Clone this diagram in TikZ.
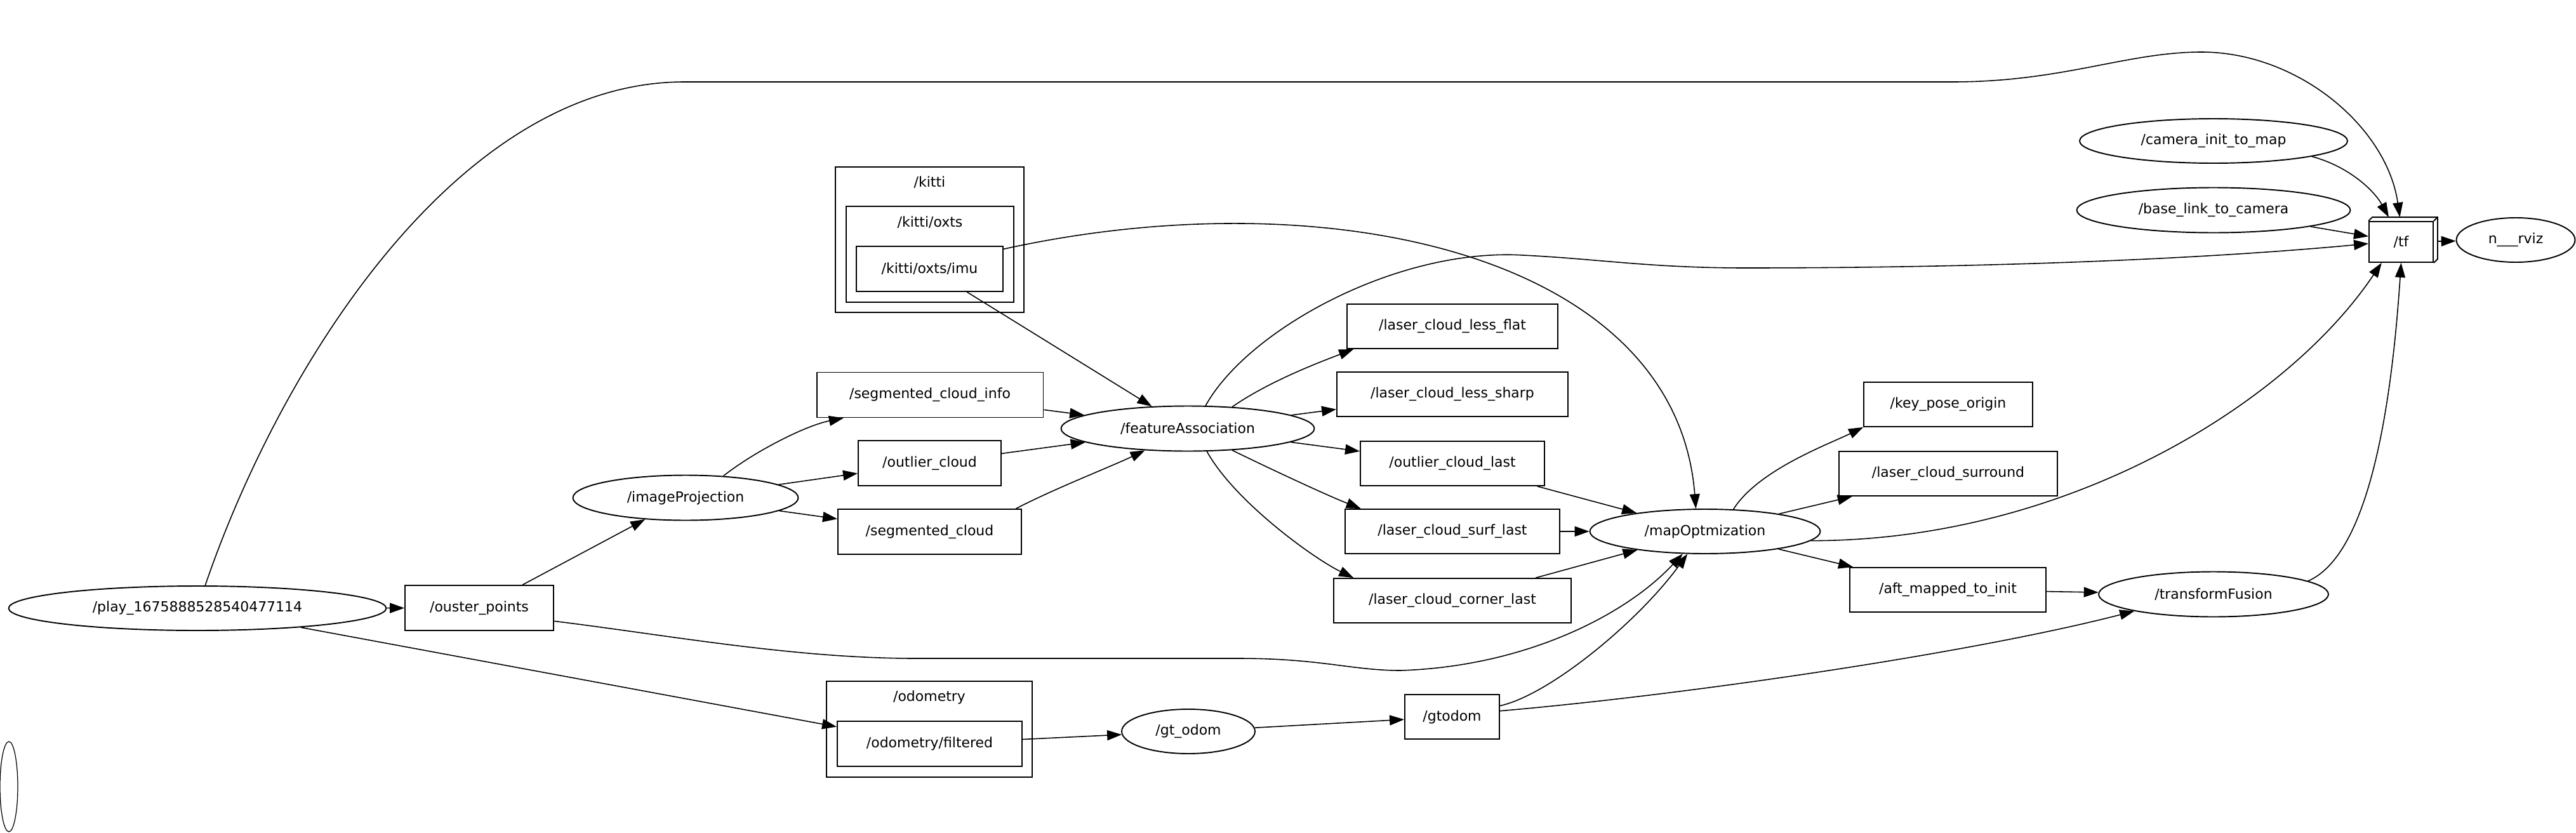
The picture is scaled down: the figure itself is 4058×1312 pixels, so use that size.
\documentclass[tikz,border=0pt]{standalone}
\usepackage{fontspec}
\setmainfont{DejaVu Sans}
\usetikzlibrary{shapes.geometric,arrows.meta,calc}
\begin{document}
\tikzset{
  nd/.style={font=\fontsize{12.5}{15}\selectfont, inner sep=0pt, line width=1.1pt, draw},
  ell/.style={nd, ellipse},
  box/.style={nd, rectangle},
  clus/.style={draw, line width=1.1pt, rectangle, inner sep=0pt},
  lbl/.style={font=\fontsize{12.5}{15}\selectfont, inner sep=0pt},
  e/.style={draw, line width=0.9pt, -{Triangle[length=0.46cm,width=0.32cm]}}
}
\begin{tikzpicture}[x=0.02cm,y=-0.02cm]
\fill[white] (0,0) rectangle (4058,1312);
\useasboundingbox (0,0) rectangle (4058,1312);

% clusters
\node[clus, minimum width=5.94cm, minimum height=4.58cm] (kitti) at (1464.5,377.5) {};
\node[lbl] (kittil) at (1464.5,287) {/kitti};
\node[clus, minimum width=5.28cm, minimum height=3.02cm] (oxts) at (1465,400.5) {};
\node[lbl] (oxtsl) at (1465,350) {/kitti/oxts};
\node[clus, minimum width=6.48cm, minimum height=3.02cm] (odom) at (1464,1148.5) {};
\node[lbl] (odoml) at (1464,1098) {/odometry};

% nodes
\node[ell, minimum width=11.9cm, minimum height=1.4cm] (play) at (311,958) {/play\_1675888528540477114};
\node[box, minimum width=4.68cm, minimum height=1.42cm] (ouster) at (755,957.5) {/ouster\_points};
\node[ell, minimum width=0.56cm, minimum height=2.84cm, line width=0.7pt] (blank) at (14,1239) {};
\node[ell, minimum width=7.1cm, minimum height=1.42cm] (ip) at (1080,784) {/imageProjection};
\node[box, minimum width=7.14cm, minimum height=1.42cm] (sci) at (1465,622) {/segmented\_cloud\_info};
\node[box, minimum width=4.5cm, minimum height=1.42cm] (oc) at (1464.5,729.5) {/outlier\_cloud};
\node[box, minimum width=5.78cm, minimum height=1.42cm] (sc) at (1464.5,837.5) {/segmented\_cloud};
\node[box, minimum width=4.62cm, minimum height=1.42cm] (imu) at (1464.5,423.5) {/kitti/oxts/imu};
\node[box, minimum width=5.82cm, minimum height=1.42cm] (odomf) at (1464.5,1171.5) {/odometry/filtered};
\node[ell, minimum width=7.98cm, minimum height=1.42cm] (fa) at (1871,675) {/featureAssociation};
\node[ell, minimum width=4.2cm, minimum height=1.4cm] (gtodome) at (1872,1152) {/gt\_odom};
\node[box, minimum width=2.98cm, minimum height=1.4cm] (gtodom) at (2287.5,1129) {/gtodom};
\node[box, minimum width=6.64cm, minimum height=1.4cm] (lclf) at (2288,514) {/laser\_cloud\_less\_flat};
\node[box, minimum width=7.28cm, minimum height=1.4cm] (lcls) at (2288,621) {/laser\_cloud\_less\_sharp};
\node[box, minimum width=5.8cm, minimum height=1.4cm] (ocl) at (2288,730) {/outlier\_cloud\_last};
\node[box, minimum width=6.76cm, minimum height=1.4cm] (lcsl) at (2288,837) {/laser\_cloud\_surf\_last};
\node[box, minimum width=7.48cm, minimum height=1.4cm] (lccl) at (2288,946) {/laser\_cloud\_corner\_last};
\node[ell, minimum width=7.26cm, minimum height=1.4cm] (map) at (2686,837) {/mapOptmization};
\node[box, minimum width=5.32cm, minimum height=1.4cm] (kpo) at (3069,637) {/key\_pose\_origin};
\node[box, minimum width=6.88cm, minimum height=1.4cm] (lcs) at (3069,746) {/laser\_cloud\_surround};
\node[box, minimum width=6.18cm, minimum height=1.4cm] (aft) at (3068.5,929) {/aft\_mapped\_to\_init};
\node[ell, minimum width=7.24cm, minimum height=1.42cm] (tfus) at (3487,936) {/transformFusion};
\node[ell, minimum width=8.44cm, minimum height=1.4cm] (cam) at (3487,222) {/camera\_init\_to\_map};
\node[ell, minimum width=8.62cm, minimum height=1.42cm] (base) at (3487,331) {/base\_link\_to\_camera};
\node[box, minimum width=2.02cm, minimum height=1.28cm] (tf) at (3782.5,381) {/tf};
\node[ell, minimum width=3.74cm, minimum height=1.4cm] (rviz) at (3963,378) {n\_\_\_rviz};

% 3D part of /tf
\draw[line width=1.1pt] (tf.north west) -- ++(6,-6) -- ($(tf.north east)+(6,-6)$) -- ($(tf.south east)+(6,-6)$) -- (tf.south east);
\draw[line width=1.1pt] (tf.north east) -- ++(6,-6);

% edges
\draw[e] (play) -- (ouster);
\draw[e] (play) -- (odomf);
\draw[e] (play) .. controls (440,580) and (720,129) .. (1078,129) -- (3076,129) .. controls (3250,129) and (3350,82) .. (3468,82) .. controls (3620,82) and (3760,200) .. ($(tf.north)+(-2,-6)$);
\draw[e] (ouster) -- (ip);
\draw[e] (ouster.-10) .. controls (1050,1000) and (1250,1037) .. (1442,1037) -- (1952,1037) .. controls (2080,1037) and (2130,1056) .. (2206,1056) .. controls (2400,1050) and (2560,970) .. (map.225);
\draw[e] (ip.30) .. controls (1190,710) and (1270,670) .. (sci.195);
\draw[e] (ip) -- (oc);
\draw[e] (ip) -- (sc);
\draw[e] (sci) -- (fa);
\draw[e] (oc) -- (fa);
\draw[e] (sc.15) .. controls (1660,770) and (1750,735) .. (fa.207);
\draw[e] (imu) -- (fa);
\draw[e] (imu.15) .. controls (2090,280) and (2640,400) .. (map.112);
\draw[e] (fa.26) .. controls (2000,600) and (2080,570) .. (lclf.193);
\draw[e] (fa) -- (lcls);
\draw[e] (fa) -- (ocl);
\draw[e] (fa.-26) .. controls (2000,738) and (2090,780) .. (lcsl.166);
\draw[e] (fa.-50) .. controls (1945,790) and (2070,880) .. (lccl.167);
\draw[e] (fa.52) .. controls (1965,520) and (2200,390) .. (2400,402) .. controls (2520,408) and (2600,422) .. (2750,422) .. controls (3100,422) and (3450,410) .. (tf.183);
\draw[e] (ocl) -- (map);
\draw[e] (lcsl) -- (map);
\draw[e] (lccl) -- (map);
\draw[e] (map.38) .. controls (2770,740) and (2880,700) .. (kpo.195);
\draw[e] (map) -- (lcs);
\draw[e] (map) -- (aft);
\draw[e] (map.-5) .. controls (3250,852) and (3600,640) .. (tf.227);
\draw[e] (aft) -- (tfus);
\draw[e] (tfus.8) .. controls (3740,870) and (3770,600) .. (tf.south);
\draw[e] (odomf) -- (gtodome);
\draw[e] (gtodome) -- (gtodom);
\draw[e] (gtodom.13) .. controls (2440,1095) and (2580,980) .. (map.232);
\draw[e] (gtodom.7) .. controls (2650,1095) and (3100,1030) .. (tfus.192);
\draw[e] (cam.-9) .. controls (3700,262) and (3740,300) .. ($(tf.north)+(-19.5,-6)$);
\draw[e] (base) -- (tf);
\draw[e, shorten <=0.12cm] (tf) -- (rviz);
\end{tikzpicture}
\end{document}
